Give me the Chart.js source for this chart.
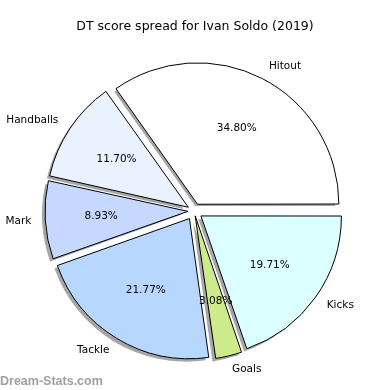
<!DOCTYPE html>
<html>
<head>
<meta charset="utf-8">
<script src="https://cdn.jsdelivr.net/npm/chart.js@4"></script>
<style>body{margin:0;background:#fff}</style>
</head>
<body>
<canvas id="pie" width="390" height="390"></canvas>
<script>
// values (percent of DT score), counter-clockwise from 3 o'clock
const categories = ['Hitout', 'Handballs', 'Mark', 'Tackle', 'Goals', 'Kicks'];
const shares = [34.80, 11.70, 8.93, 21.77, 3.08, 19.71];
const colours = ['#ffffff', '#eaf1ff', '#c6d8ff', '#b8d7ff', '#cdeb8b', '#dcffff'];
const chartTitle = 'DT score spread for Ivan Soldo (2019)';
const watermark = 'Dream-Stats.com';

// chart.js goes clockwise, matplotlib went counter-clockwise, so flip the order
const rev = a => a.slice().reverse();
const total = shares.reduce((a, b) => a + b, 0);
const FONT = '"DejaVu Sans", sans-serif';
const EXPLODE = 9;   // px each wedge is pushed out
const SHADOW = 3;    // px shadow shift (left + down)

// chart.js moves an arc by offset/4 * (2 - sin(circumference)), undo that so every wedge moves EXPLODE px
const offsets = rev(shares).map(v => {
    const circ = v / total * Math.PI * 2;
    return EXPLODE * 4 / (2 - Math.sin(Math.min(Math.PI, circ)));
});

const shadowPlugin = {
    id: 'wedgeShadow',
    beforeDatasetDraw(chart) {
        const ctx = chart.ctx;
        const meta = chart.getDatasetMeta(0);
        ctx.save();
        ctx.fillStyle = 'rgba(77,77,77,0.5)';
        meta.data.forEach(arc => {
            const p = arc.getProps(['x', 'y', 'startAngle', 'endAngle', 'outerRadius'], true);
            const mid = (p.startAngle + p.endAngle) / 2;
            const cx = p.x + Math.cos(mid) * EXPLODE - SHADOW;
            const cy = p.y + Math.sin(mid) * EXPLODE + SHADOW;
            ctx.beginPath();
            ctx.moveTo(cx, cy);
            ctx.arc(cx, cy, p.outerRadius, p.startAngle, p.endAngle);
            ctx.closePath();
            ctx.fill();
        });
        ctx.restore();
    }
};

const textPlugin = {
    id: 'pieText',
    afterDatasetsDraw(chart) {
        const ctx = chart.ctx;
        const meta = chart.getDatasetMeta(0);
        ctx.save();
        ctx.fillStyle = '#000';
        ctx.font = '10.5px ' + FONT;
        ctx.textBaseline = 'middle';
        meta.data.forEach((arc, i) => {
            const p = arc.getProps(['x', 'y', 'startAngle', 'endAngle', 'outerRadius'], true);
            const mid = (p.startAngle + p.endAngle) / 2;
            const cx = p.x + Math.cos(mid) * EXPLODE;
            const cy = p.y + Math.sin(mid) * EXPLODE;
            const r = p.outerRadius;
            const name = chart.data.labels[i];
            const val = chart.data.datasets[0].data[i];
            // category name outside
            ctx.textAlign = Math.cos(mid) > 0 ? 'left' : 'right';
            ctx.fillText(name, cx + Math.cos(mid) * r * 1.1, cy + Math.sin(mid) * r * 1.1);
            // percentage inside
            ctx.textAlign = 'center';
            ctx.fillText((val / total * 100).toFixed(2) + '%', cx + Math.cos(mid) * r * 0.6, cy + Math.sin(mid) * r * 0.6);
        });
        // title
        ctx.font = '12.5px ' + FONT;
        ctx.textAlign = 'center';
        ctx.fillText(chartTitle, 195, 27);
        // watermark
        ctx.font = 'bold 12.5px "Liberation Sans", sans-serif';
        ctx.fillStyle = '#a0a0a0';
        ctx.textAlign = 'left';
        ctx.textBaseline = 'alphabetic';
        ctx.fillText(watermark, 0, 385);
        ctx.restore();
    }
};

new Chart(document.getElementById('pie').getContext('2d'), {
    type: 'pie',
    data: {
        labels: rev(categories),
        datasets: [{
            data: rev(shares),
            backgroundColor: rev(colours),
            borderColor: '#000',
            borderWidth: 1,
            offset: offsets,
            radius: 140,
            clip: false
        }]
    },
    options: {
        responsive: false,
        animation: false,
        rotation: 90,
        layout: { padding: { left: 0, right: 2, top: 32, bottom: 0 } },
        plugins: {
            legend: { display: false },
            title: { display: false },
            tooltip: { enabled: false }
        }
    },
    plugins: [shadowPlugin, textPlugin]
});
</script>
</body>
</html>
